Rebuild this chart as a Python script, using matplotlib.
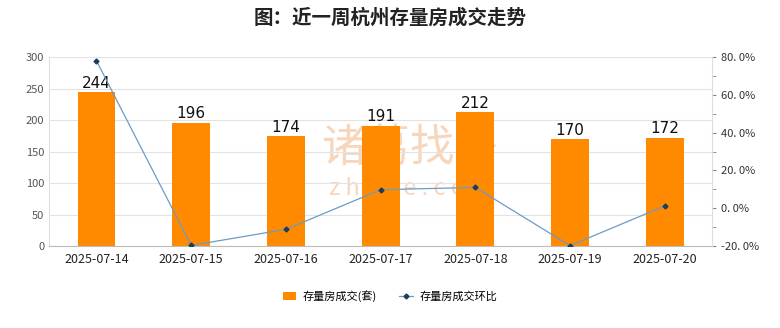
import matplotlib.pyplot as plt
from matplotlib.ticker import MultipleLocator

plt.rcParams['font.family'] = ['Noto Sans CJK SC', 'DejaVu Sans']

dates = ['2025-07-14', '2025-07-15', '2025-07-16', '2025-07-17',
         '2025-07-18', '2025-07-19', '2025-07-20']
deals = [244, 196, 174, 191, 212, 170, 172]
mom = [78.0, -19.7, -11.2, 9.8, 11.0, -19.8, 1.2]  # 环比 %

fig = plt.figure(figsize=(7.8, 3.28), dpi=100)
ax = fig.add_axes([0.063, 0.25, 0.85, 0.576])
x = range(len(dates))

# watermark sits behind the bars
ax.text(0.545, 0.52, '诸葛找房', transform=ax.transAxes, ha='center', va='center',
        fontsize=32, color='#f7d6bc', zorder=1)
ax.text(0.545, 0.305, 'z h u g e . c o m', transform=ax.transAxes, ha='center',
        va='center', fontsize=17, color='#f7d6bc', zorder=1)

bars = ax.bar(x, deals, width=0.4, color='#ff8a00', label='存量房成交(套)', zorder=2)
for i, v in enumerate(deals):
    ax.text(i, v + 2, str(v), ha='center', va='bottom', fontsize=11,
            family='DejaVu Sans', color='#111111', zorder=5)

ax.set_xlim(-0.5, len(dates) - 0.5)
ax.set_ylim(0, 300)
ax.yaxis.set_major_locator(MultipleLocator(50))
ax.grid(axis='y', color='#e3e3e3', linewidth=0.8, zorder=0)
ax.set_xticks(list(x))
ax.set_xticklabels(dates, fontsize=9, color='#222222')
ax.tick_params(axis='y', labelsize=8, colors='#555555', length=0)
ax.tick_params(axis='x', length=0, pad=5)
for s in ['top', 'right']:
    ax.spines[s].set_visible(False)
ax.spines['left'].set_color('#dddddd')
ax.spines['bottom'].set_color('#bbbbbb')

ax2 = ax.twinx()
line, = ax2.plot(x, mom, color='#6c9bc4', linewidth=0.9, marker='D',
                 markersize=2.5, markerfacecolor='#1f3b5a',
                 markeredgecolor='#1f3b5a', label='存量房成交环比', zorder=4)
ax2.set_ylim(-20, 80)
ax2.yaxis.set_minor_locator(MultipleLocator(10))
ticks = [-20, 0, 20, 40, 60, 80]
ax2.set_yticks(ticks)
ax2.set_yticklabels([f'{t}. 0%' for t in ticks], fontsize=8, color='#333333')
ax2.tick_params(axis='y', which='major', length=3, color='#888888')
ax2.tick_params(axis='y', which='minor', length=3, color='#888888')
for s in ['top', 'left', 'bottom']:
    ax2.spines[s].set_visible(False)
ax2.spines['right'].set_color('#dddddd')

fig.legend(handles=[bars, line], loc='center', bbox_to_anchor=(0.5, 0.097),
           ncol=2, frameon=False, fontsize=8, handlelength=1.2,
           handletextpad=0.6, columnspacing=2.0)

fig.suptitle('图：近一周杭州存量房成交走势', fontsize=14, fontweight='bold',
             color='#222222', y=0.975)

fig.savefig('out.png', dpi=100)
